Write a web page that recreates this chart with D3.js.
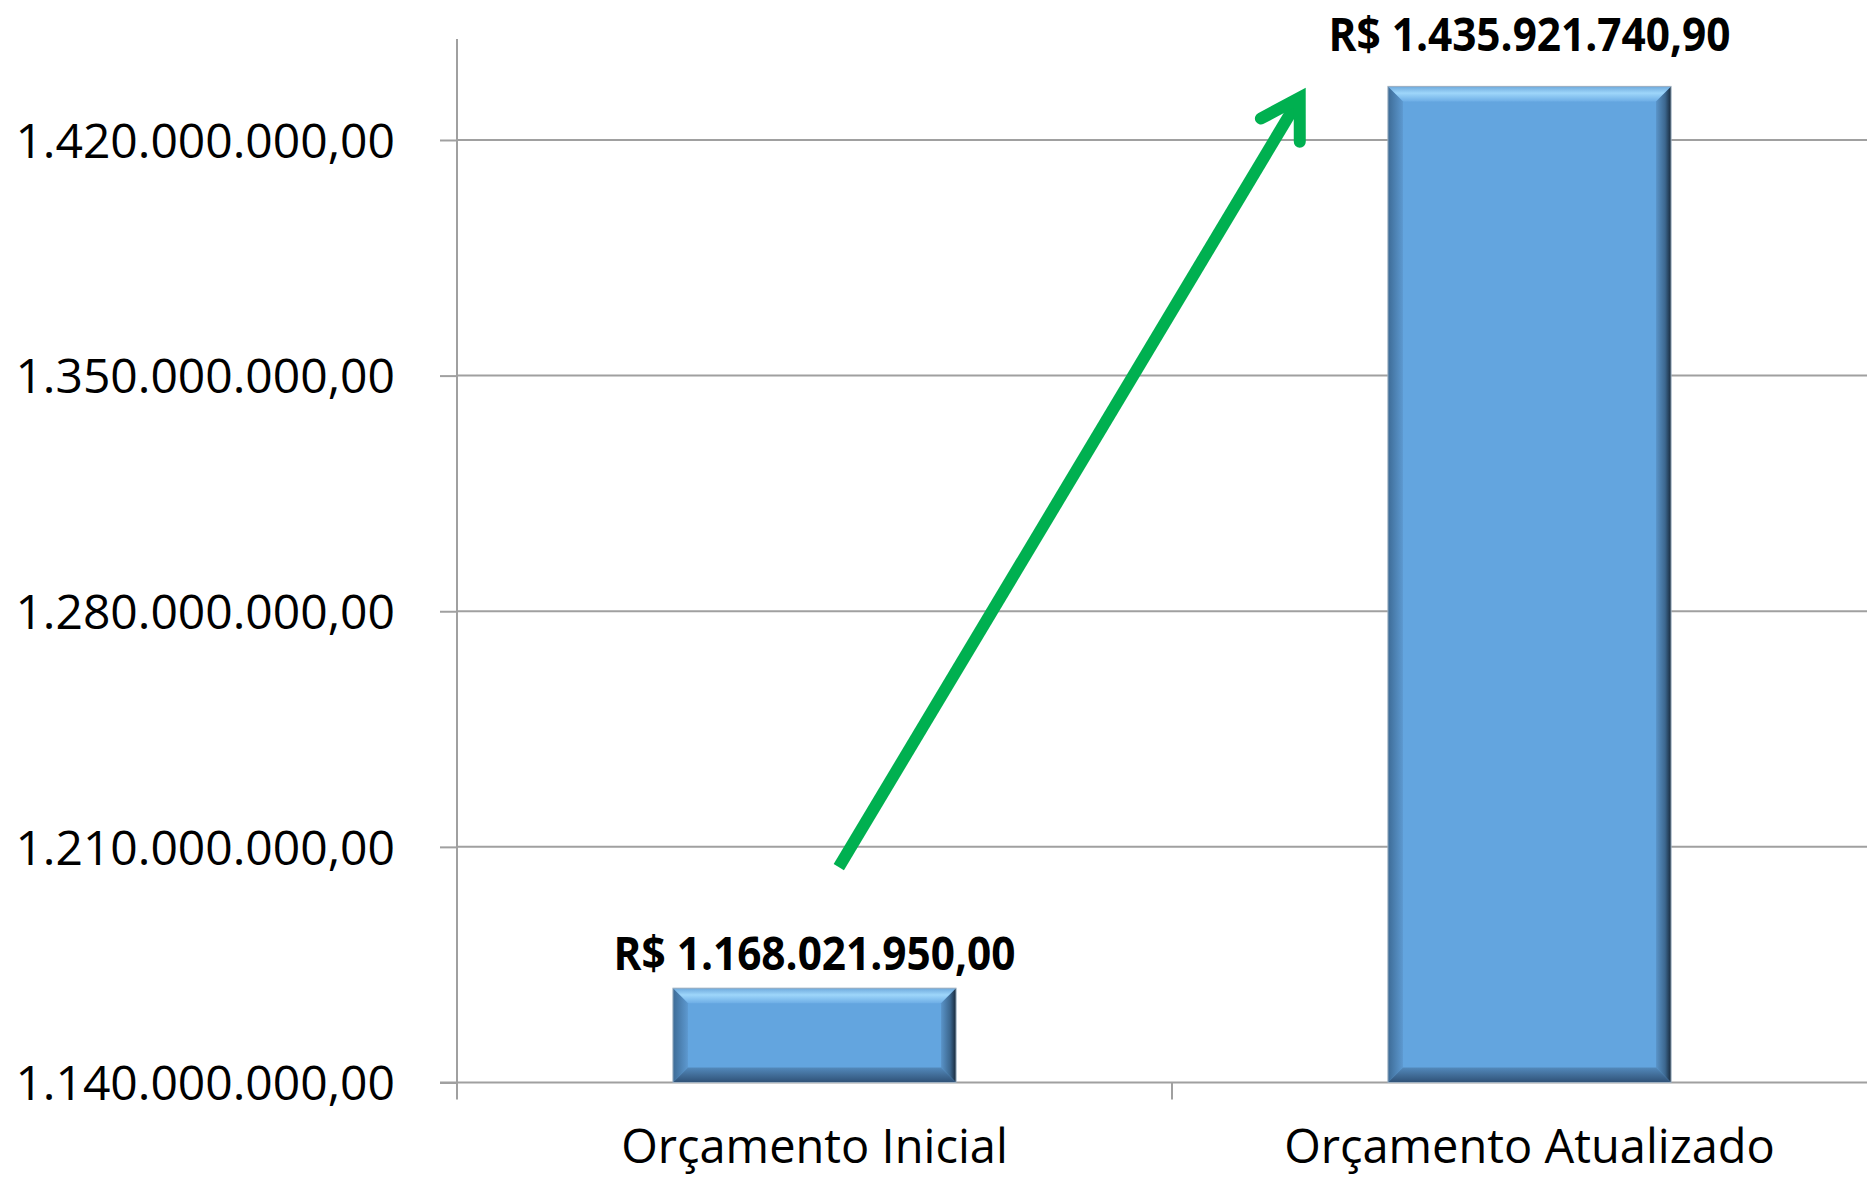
<!DOCTYPE html>
<html>
<head>
<meta charset="utf-8">
<script src="https://cdn.jsdelivr.net/npm/d3@7"></script>
<style>
  html, body { margin: 0; padding: 0; background: #fff; }
  svg { display: block; }
</style>
</head>
<body>
<svg id="chart" width="1867" height="1178"></svg>
<script>
// ---- data ----
const categories = ["Orçamento Inicial", "Orçamento Atualizado"];
const values = [1168021950.00, 1435921740.90];
const yTicks = [1140000000, 1210000000, 1280000000, 1350000000, 1420000000];
const yDomain = [1140000000, 1450000000];
// arrow annotation in data space (category index, value)
const arrowStart = [0.034, 1204000000];
const arrowTip = [0.687, 1435500000];

// ---- layout / style ----
const W = 1867, H = 1178;
const plot = { left: 457, right: 1887, top: 39, bottom: 1082.5 };
const gridColor = "#a0a0a0";
const barFill = "#63a5df";
const bevel = 15;
const labelGap = [18, 35];

const locale = d3.formatLocale({ decimal: ",", thousands: ".", grouping: [3], currency: ["R$ ", ""] });
const fmt = locale.format(",.2f");

const svg = d3.select("#chart");

const x = d3.scaleBand().domain(categories).range([plot.left, plot.right])
  .paddingInner(0.604).paddingOuter(0.302);
const xi = d3.scaleLinear().domain([-0.5, categories.length - 0.5]).range([plot.left, plot.right]);
const y = d3.scaleLinear().domain(yDomain).range([plot.bottom, plot.top]);

// gradients
const defs = svg.append("defs");
function grad(id, x1, y1, x2, y2, stops) {
  const g = defs.append("linearGradient").attr("id", id)
    .attr("x1", x1).attr("y1", y1).attr("x2", x2).attr("y2", y2);
  stops.forEach(s => g.append("stop").attr("offset", s[0]).attr("stop-color", s[1]));
}
grad("gTop", 0, 0, 0, 1, [[0, "#6ea9dc"], [0.45, "#9ed6fa"], [1, "#6eaee6"]]);
grad("gLeft", 0, 0, 1, 0, [[0, "#3d6b96"], [1, "#5d99d0"]]);
grad("gRight", 0, 0, 1, 0, [[0, "#5a94c9"], [0.6, "#3c678f"], [1, "#17283a"]]);
grad("gBottom", 0, 0, 0, 1, [[0, "#5389bb"], [1, "#2f5176"]]);

// gridlines
svg.append("g").selectAll("line").data(yTicks.slice(1)).join("line")
  .attr("x1", plot.left).attr("x2", W)
  .attr("y1", d => y(d)).attr("y2", d => y(d))
  .attr("stroke", gridColor).attr("stroke-width", 2);

// y axis
const yAxis = d3.axisLeft(y).tickValues(yTicks).tickFormat(fmt).tickSize(17).tickPadding(45);
const gy = svg.append("g").attr("transform", `translate(${plot.left},0)`).call(yAxis);
gy.select(".domain").remove();
gy.selectAll(".tick line").attr("stroke", gridColor).attr("stroke-width", 2);
gy.selectAll(".tick text")
  .attr("font-family", "'Open Sans', sans-serif").attr("font-size", 48)
  .attr("fill", "#000").attr("dy", "0.36em");

// y axis line
svg.append("line")
  .attr("x1", plot.left).attr("x2", plot.left)
  .attr("y1", plot.top).attr("y2", plot.bottom + 17)
  .attr("stroke", gridColor).attr("stroke-width", 2);

// x axis baseline
svg.append("line")
  .attr("x1", plot.left - 17).attr("x2", W)
  .attr("y1", y(yDomain[0])).attr("y2", y(yDomain[0]))
  .attr("stroke", gridColor).attr("stroke-width", 2);

// x boundary ticks
const bounds = d3.range(1, categories.length + 1).map(i => i - 0.5);
svg.append("g").selectAll("line").data(bounds).join("line")
  .attr("x1", d => xi(d)).attr("x2", d => xi(d))
  .attr("y1", plot.bottom).attr("y2", plot.bottom + 17)
  .attr("stroke", gridColor).attr("stroke-width", 2);

// category labels
svg.append("g").selectAll("text").data(categories).join("text")
  .attr("x", d => x(d) + x.bandwidth() / 2)
  .attr("y", 1163)
  .attr("text-anchor", "middle")
  .attr("font-family", "'Open Sans', sans-serif").attr("font-size", 47)
  .attr("fill", "#000")
  .text(d => d);

// bars with bevel
const bars = svg.append("g").selectAll("g").data(categories.map((c, i) => ({ c, v: values[i], i }))).join("g");
bars.each(function (d) {
  const g = d3.select(this);
  const x0 = x(d.c), x1 = x0 + x.bandwidth();
  const y0 = y(d.v), y1 = y(yDomain[0]);
  const b = bevel;
  const pts = a => a.map(p => p.join(",")).join(" ");
  g.append("rect").attr("x", x0).attr("y", y0).attr("width", x1 - x0).attr("height", y1 - y0)
    .attr("fill", barFill);
  g.append("polygon").attr("points", pts([[x0, y0], [x1, y0], [x1 - b, y0 + b], [x0 + b, y0 + b]])).attr("fill", "url(#gTop)");
  g.append("polygon").attr("points", pts([[x0, y0], [x0 + b, y0 + b], [x0 + b, y1 - b], [x0, y1]])).attr("fill", "url(#gLeft)");
  g.append("polygon").attr("points", pts([[x1, y0], [x1, y1], [x1 - b, y1 - b], [x1 - b, y0 + b]])).attr("fill", "url(#gRight)");
  g.append("polygon").attr("points", pts([[x0, y1], [x0 + b, y1 - b], [x1 - b, y1 - b], [x1, y1]])).attr("fill", "url(#gBottom)");
  g.append("rect").attr("x", x0).attr("y", y0).attr("width", x1 - x0).attr("height", y1 - y0)
    .attr("fill", "none").attr("stroke", "#9fb0c0").attr("stroke-width", 1);
});

// value labels
svg.append("g").selectAll("text").data(values).join("text")
  .attr("x", (d, i) => x(categories[i]) + x.bandwidth() / 2)
  .attr("y", (d, i) => y(d) - labelGap[i])
  .attr("text-anchor", "middle")
  .attr("font-family", "'Open Sans', sans-serif").attr("font-weight", 700).attr("font-size", 47)
  .attr("textLength", 402).attr("lengthAdjust", "spacingAndGlyphs")
  .attr("fill", "#000")
  .text(d => "R$ " + fmt(d));

// arrow annotation
const sx = xi(arrowStart[0]), sy = y(arrowStart[1]);
const tx = xi(arrowTip[0]), ty = y(arrowTip[1]);
const len = Math.hypot(sx - tx, sy - ty);
const bx = (sx - tx) / len, by = (sy - ty) / len; // back direction
const sw = 12, half = 31 * Math.PI / 180, armLen = 44;
const back = (sw / 2) / Math.sin(half);
const vx = tx + bx * back, vy = ty + by * back;
function rot(ax, ay, ang) { return [ax * Math.cos(ang) - ay * Math.sin(ang), ax * Math.sin(ang) + ay * Math.cos(ang)]; }
const a1 = rot(bx, by, half), a2 = rot(bx, by, -half);
const green = "#00b050";
svg.append("line").attr("x1", sx).attr("y1", sy).attr("x2", vx + bx * 4).attr("y2", vy + by * 4)
  .attr("stroke", green).attr("stroke-width", sw).attr("stroke-linecap", "butt");
svg.append("path")
  .attr("d", d3.line()([[vx + a1[0] * armLen, vy + a1[1] * armLen], [vx, vy], [vx + a2[0] * armLen, vy + a2[1] * armLen]]))
  .attr("fill", "none").attr("stroke", green).attr("stroke-width", sw)
  .attr("stroke-linecap", "round").attr("stroke-linejoin", "miter").attr("stroke-miterlimit", 10);
</script>
</body>
</html>
